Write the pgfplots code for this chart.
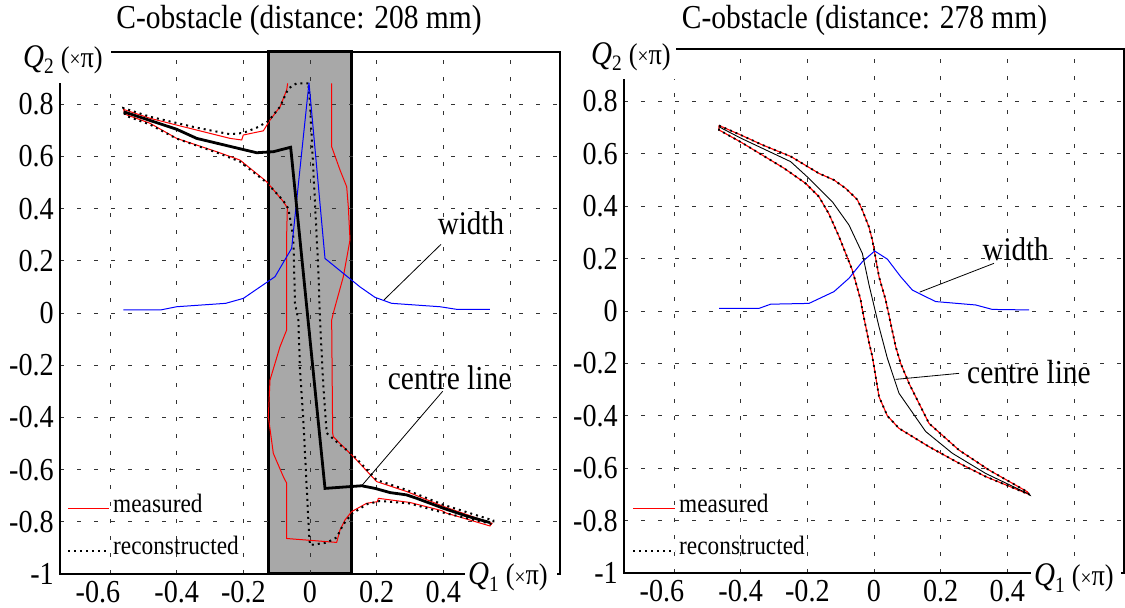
\documentclass[border=0pt]{standalone}
\usepackage{fontspec}
\setmainfont{Liberation Serif}[FakeStretch=0.88]
\usepackage{pgfplots}
\pgfplotsset{compat=1.18}
\definecolor{obst}{RGB}{168,168,168}
\pgfplotsset{
  myaxis/.style={
    scale only axis, width=500pt, height=522pt,
    xmin=-0.75, xmax=0.75, ymin=-1, ymax=1,
    xtick={-0.6,-0.4,-0.2,0,0.2,0.4,0.6},
    ytick={-1,-0.8,-0.6,-0.4,-0.2,0,0.2,0.4,0.6,0.8,1},
    xticklabels={\hspace*{-24pt}-0.6,-0.4,-0.2,0,0.2,0.4,{}},
    yticklabels={-1,-0.8,-0.6,-0.4,-0.2,0,0.2,0.4,0.6,0.8,{}},
    /pgf/number format/assume math mode=true,
    grid=major,
    major grid style={dash pattern=on 4pt off 13pt, black!80, line width=0.9pt},
    major tick length=0pt,
    tick label style={font=\fontsize{32}{33}\selectfont},
    xticklabel style={inner sep=0pt, yshift=-7pt},
    yticklabel style={inner sep=0pt, xshift=-6pt},
    axis line style={line width=1.6pt},
    set layers,
  }
}
\newcommand{\qlab}[1]{\fontsize{33}{33}\selectfont\textit{Q}\raisebox{-6pt}{\fontsize{22}{22}\selectfont #1}\hspace{7pt}\fontsize{30}{30}\selectfont(\raisebox{1pt}{\fontsize{22}{22}\selectfont ×}π)}
\tikzset{legtext/.style={anchor=base west, inner sep=0pt, font=\fontsize{26.5}{27}\selectfont}}
\begin{document}
\begin{tikzpicture}
% ---------------- left axis ----------------
\begin{axis}[myaxis, at={(60pt,34pt)}, anchor=south west]
\addplot[on layer=axis background, fill=obst, draw=black, line width=3pt] coordinates {(-0.125,-1) (0.125,-1) (0.125,1) (-0.125,1) (-0.125,-1)};
% measured
\addplot[red, line width=1pt] coordinates {
(-0.067,0.88) (-0.07,0.854) (-0.09,0.79) (-0.12,0.739) (-0.14,0.698) (-0.2,0.682) (-0.205,0.663) (-0.24,0.669) (-0.34,0.701) (-0.40,0.72) (-0.48,0.746) (-0.559,0.78) (-0.556,0.762) (-0.48,0.727) (-0.40,0.669) (-0.28,0.618) (-0.21,0.586) (-0.13,0.503) (-0.08,0.427) (-0.068,0.403) (-0.07,0.30) (-0.07,-0.065) (-0.09,-0.129) (-0.12,-0.257) (-0.125,-0.397) (-0.11,-0.538) (-0.08,-0.627) (-0.07,-0.652) (-0.07,-0.864) (-0.01,-0.87) (0.08,-0.879) (0.09,-0.831) (0.105,-0.793) (0.125,-0.761) (0.17,-0.729) (0.202,-0.723) (0.205,-0.71) (0.30,-0.726) (0.395,-0.757) (0.41,-0.767) (0.54,-0.816) (0.546,-0.806) (0.40,-0.741) (0.29,-0.684) (0.20,-0.646) (0.13,-0.55) (0.09,-0.5) (0.07,-0.474) (0.068,-0.46) (0.065,-0.027) (0.07,0) (0.10,0.139) (0.12,0.28) (0.115,0.407) (0.11,0.484) (0.09,0.548) (0.065,0.637) (0.065,0.88)};
% reconstructed
\addplot[black, line width=2pt, dash pattern=on 2pt off 4pt] coordinates {
(-0.005,0.88) (-0.04,0.88) (-0.065,0.86) (-0.09,0.79) (-0.125,0.735) (-0.16,0.71) (-0.2,0.69) (-0.24,0.685) (-0.34,0.71) (-0.40,0.728) (-0.48,0.752) (-0.56,0.785) (-0.555,0.757) (-0.48,0.722) (-0.40,0.668) (-0.28,0.615) (-0.21,0.58) (-0.13,0.50) (-0.08,0.43) (-0.065,0.40) (-0.05,0.29) (-0.045,0.037) (-0.035,-0.027) (-0.03,-0.218) (-0.02,-0.41) (-0.01,-0.665) (-0.003,-0.844) (0,-0.889) (0.05,-0.88) (0.08,-0.86) (0.1,-0.81) (0.125,-0.77) (0.17,-0.733) (0.21,-0.72) (0.3,-0.73) (0.4,-0.765) (0.55,-0.81) (0.55,-0.795) (0.4,-0.735) (0.29,-0.678) (0.2,-0.64) (0.13,-0.545) (0.09,-0.505) (0.05,-0.46) (0.04,-0.28) (0.03,-0.027) (0.025,0.165) (0.01,0.548) (0,0.80) (-0.005,0.88)};
% width
\addplot[blue, line width=1pt] coordinates {
(-0.56,0.012) (-0.447,0.012) (-0.40,0.024) (-0.253,0.037) (-0.2,0.056) (-0.105,0.139) (-0.055,0.248) (-0.003,0.882) (0.045,0.209) (0.15,0.10) (0.195,0.06) (0.245,0.037) (0.39,0.024) (0.44,0.014) (0.54,0.014)};
% centre line
\addplot[black, line width=2.8pt] coordinates {
(-0.559,0.771) (-0.40,0.704) (-0.34,0.669) (-0.16,0.614) (-0.11,0.618) (-0.058,0.635) (0.045,-0.672) (0.155,-0.662) (0.195,-0.672) (0.24,-0.688) (0.29,-0.697) (0.32,-0.71) (0.40,-0.748) (0.47,-0.778) (0.54,-0.803)};
\draw[black, line width=0.8pt] (axis cs:0.393,0.263) -- (axis cs:0.222,0.05);
\draw[black, line width=0.8pt] (axis cs:0.398,-0.30) -- (axis cs:0.155,-0.662);
\node[font=\fontsize{33}{34}\selectfont, inner sep=0pt] at (axis cs:0.483,0.345) {width};
\node[font=\fontsize{33.5}{34}\selectfont, inner sep=0pt] at (axis cs:0.419,-0.249) {centre line};
\end{axis}
% ---------------- right axis ----------------
\begin{axis}[myaxis, at={(624pt,35pt)}, anchor=south west, height=524pt]
\addplot[red, line width=1.1pt] coordinates {
(-0.465,0.708) (-0.40,0.672) (-0.335,0.634) (-0.25,0.59) (-0.165,0.525) (-0.12,0.5) (-0.085,0.468) (-0.05,0.425) (-0.035,0.385) (-0.015,0.32) (-0.005,0.271) (0.015,0.131) (0.035,0.042) (0.065,-0.136) (0.08,-0.2) (0.105,-0.276) (0.165,-0.429) (0.255,-0.531) (0.345,-0.607) (0.46,-0.69) (0.465,-0.70) (0.335,-0.632) (0.255,-0.581) (0.165,-0.518) (0.075,-0.448) (0.04,-0.40) (0.015,-0.327) (-0.005,-0.174) (-0.015,-0.12) (-0.035,0.004) (-0.04,0.042) (-0.065,0.156) (-0.105,0.284) (-0.135,0.37) (-0.165,0.436) (-0.205,0.487) (-0.27,0.545) (-0.335,0.595) (-0.40,0.645) (-0.465,0.691) (-0.465,0.708)};
\addplot[black, line width=1.8pt, dash pattern=on 2pt off 4pt] coordinates {
(-0.465,0.708) (-0.40,0.672) (-0.335,0.634) (-0.25,0.59) (-0.165,0.525) (-0.12,0.5) (-0.085,0.468) (-0.05,0.425) (-0.035,0.385) (-0.015,0.32) (-0.005,0.271) (0.015,0.131) (0.035,0.042) (0.065,-0.136) (0.08,-0.2) (0.105,-0.276) (0.165,-0.429) (0.255,-0.531) (0.345,-0.607) (0.46,-0.69) (0.465,-0.70) (0.335,-0.632) (0.255,-0.581) (0.165,-0.518) (0.075,-0.448) (0.04,-0.40) (0.015,-0.327) (-0.005,-0.174) (-0.015,-0.12) (-0.035,0.004) (-0.04,0.042) (-0.065,0.156) (-0.105,0.284) (-0.135,0.37) (-0.165,0.436) (-0.205,0.487) (-0.27,0.545) (-0.335,0.595) (-0.40,0.645) (-0.465,0.691) (-0.465,0.708)};
\addplot[blue, line width=1pt] coordinates {
(-0.465,0.01) (-0.345,0.01) (-0.31,0.026) (-0.195,0.029) (-0.12,0.074) (-0.075,0.125) (-0.035,0.188) (0.002,0.229) (0.04,0.198) (0.08,0.131) (0.115,0.08) (0.135,0.067) (0.185,0.036) (0.305,0.023) (0.355,0.006) (0.465,0.004)};
\addplot[black, line width=0.9pt] coordinates {
(-0.465,0.703) (-0.40,0.66) (-0.335,0.621) (-0.25,0.57) (-0.195,0.506) (-0.125,0.417) (-0.075,0.328) (-0.035,0.22) (-0.015,0.1) (0.0,0.02) (0.015,-0.06) (0.04,-0.18) (0.075,-0.314) (0.155,-0.46) (0.235,-0.543) (0.335,-0.62) (0.46,-0.696)};
\draw[black, line width=0.8pt] (axis cs:0.36,0.182) -- (axis cs:0.137,0.072);
\draw[black, line width=0.8pt] (axis cs:0.255,-0.238) -- (axis cs:0.065,-0.261);
\node[font=\fontsize{33}{34}\selectfont, inner sep=0pt] at (axis cs:0.425,0.237) {width};
\node[font=\fontsize{33.5}{34}\selectfont, inner sep=0pt] at (axis cs:0.465,-0.232) {centre line};
\end{axis}
% ---------------- labels covering box ----------------
\fill[white] (0pt,525pt) rectangle (111pt,570pt);
\fill[white] (575pt,529pt) rectangle (676pt,572pt);
\fill[white] (465pt,0pt) rectangle (557pt,50pt);
\fill[white] (1031pt,0pt) rectangle (1121pt,50pt);
\node[anchor=base west, inner sep=0pt] at (23pt,540pt) {\qlab{2}};
\node[anchor=base west, inner sep=0pt] at (591pt,543pt) {\qlab{2}};
\node[anchor=base west, inner sep=0pt] at (468pt,23pt) {\qlab{1}};
\node[anchor=base west, inner sep=0pt] at (1034pt,22pt) {\qlab{1}};
% titles
\node[font=\fontsize{33.5}{34}\selectfont, inner sep=0pt] at (299pt,588pt) {C-obstacle (distance: 208 mm)};
\node[font=\fontsize{33.5}{34}\selectfont, inner sep=0pt] at (864.5pt,588pt) {C-obstacle (distance: 278 mm)};
% legends
\draw[red, line width=1pt] (68pt,99pt) -- (109pt,99pt);
\node[legtext] at (113pt,95pt) {measured};
\draw[black, line width=2pt, dash pattern=on 2pt off 4pt] (68pt,57pt) -- (109pt,57pt);
\node[legtext] at (113pt,53pt) {reconstructed};
\draw[red, line width=1pt] (633pt,99pt) -- (675pt,99pt);
\node[legtext] at (679pt,95pt) {measured};
\draw[black, line width=2pt, dash pattern=on 2pt off 4pt] (633pt,57pt) -- (675pt,57pt);
\node[legtext] at (679pt,53pt) {reconstructed};
\pgfresetboundingbox
\path[use as bounding box] (0pt,0pt) rectangle (1125pt,608pt);
\end{tikzpicture}
\end{document}
